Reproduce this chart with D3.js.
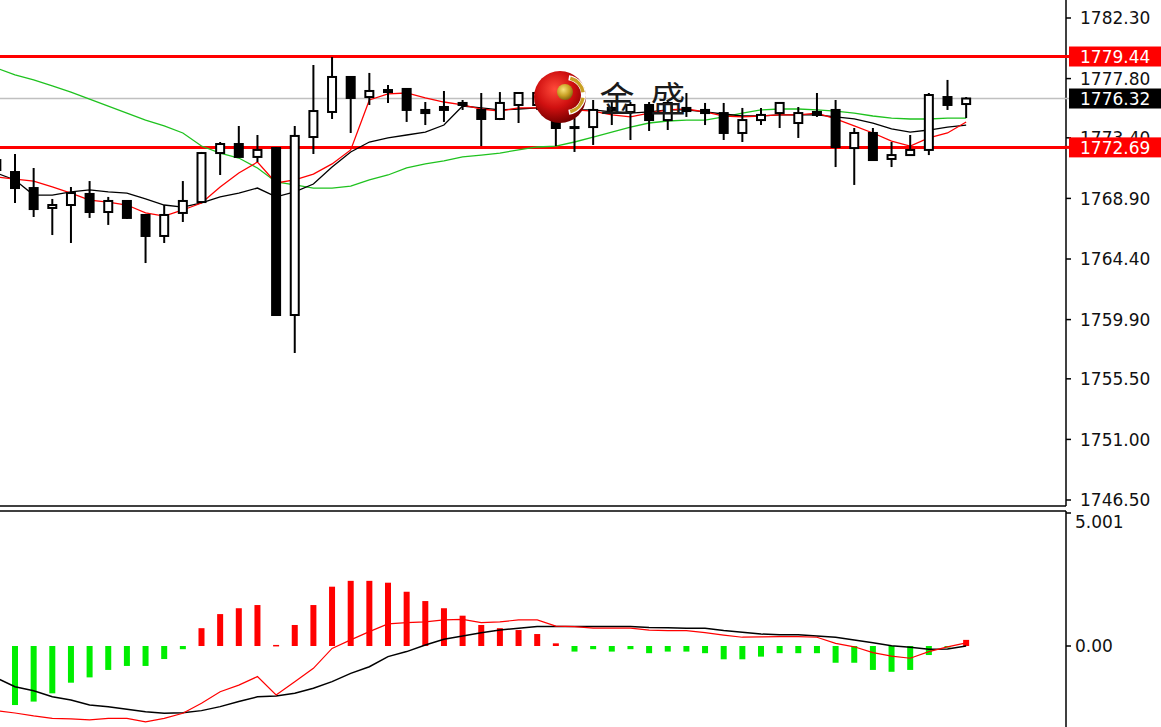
<!DOCTYPE html>
<html><head><meta charset="utf-8">
<script src="https://cdn.jsdelivr.net/npm/d3@7"></script>
<style>html,body{margin:0;padding:0;background:#fff;overflow:hidden}</style>
</head><body>
<svg id="c" width="1161" height="727"></svg>
<script>
// ---- data ----
const opens  = [1771.75,1770.86,1769.67,1768.19,1768.41,1769.23,1767.89,1768.71,1767.67,1766.11,1767.82,1768.63,1772.27,1772.94,1771.98,1772.64,1760.24,1773.46,1775.32,1777.92,1776.43,1776.95,1777.03,1775.47,1775.69,1775.84,1775.47,1774.80,1775.84,1775.84,1774.72,1774.13,1774.20,1775.47,1775.32,1775.84,1774.72,1775.62,1775.47,1775.24,1773.76,1774.72,1775.24,1774.50,1775.32,1775.47,1772.64,1773.76,1771.83,1772.12,1772.50,1776.43,1775.91];
const highs  = [1772.50,1772.20,1771.16,1768.86,1769.75,1770.19,1769.01,1768.78,1767.67,1768.41,1770.19,1772.35,1773.09,1774.28,1773.61,1772.72,1774.28,1778.81,1779.40,1777.92,1778.22,1777.32,1777.10,1776.06,1776.88,1776.21,1776.73,1776.80,1776.80,1776.80,1775.32,1774.87,1776.21,1776.21,1776.06,1776.06,1776.21,1776.73,1775.99,1775.99,1775.62,1775.62,1776.06,1775.69,1776.73,1776.21,1774.13,1774.13,1773.09,1773.61,1776.73,1777.70,1776.43];
const lows   = [1770.42,1768.56,1767.52,1766.18,1765.59,1767.45,1766.93,1767.37,1764.10,1765.59,1767.15,1768.63,1770.64,1771.98,1771.60,1760.24,1757.42,1772.20,1774.80,1773.76,1775.84,1775.99,1774.58,1774.35,1774.58,1775.47,1772.79,1774.72,1774.50,1775.47,1772.79,1772.35,1772.87,1774.35,1773.24,1773.91,1773.98,1774.95,1774.35,1773.24,1773.09,1774.35,1774.13,1773.39,1774.95,1771.23,1769.90,1771.75,1771.23,1772.12,1772.12,1775.47,1774.87];
const closes = [1771.01,1769.67,1768.11,1768.41,1769.30,1767.89,1768.71,1767.45,1766.11,1767.67,1768.71,1772.27,1772.94,1771.98,1772.50,1760.24,1773.54,1775.39,1777.92,1776.36,1776.88,1776.80,1775.47,1775.24,1775.47,1775.99,1774.80,1775.99,1776.73,1776.73,1774.13,1774.20,1775.47,1775.62,1775.84,1774.72,1775.99,1775.39,1775.24,1773.76,1774.72,1775.10,1775.99,1775.24,1775.10,1772.72,1773.76,1771.75,1772.12,1772.50,1776.58,1775.84,1776.32];

const maRed   = [1770.49,1770.34,1770.19,1769.75,1769.30,1768.78,1768.63,1768.41,1767.82,1767.59,1768.04,1768.56,1769.75,1770.79,1771.60,1770.05,1770.27,1770.71,1771.46,1772.50,1776.21,1776.66,1776.73,1776.36,1776.06,1775.84,1775.54,1775.39,1775.62,1775.62,1775.47,1775.47,1775.39,1775.10,1774.95,1775.24,1775.47,1775.54,1775.32,1775.02,1774.95,1775.02,1775.10,1775.10,1775.24,1774.80,1774.28,1773.76,1773.16,1772.79,1773.39,1773.76,1774.58];
const maBlack = [1770.79,1770.27,1769.15,1769.15,1769.38,1769.53,1769.38,1769.30,1768.86,1768.41,1768.26,1768.56,1769.01,1769.30,1769.67,1769.01,1769.38,1769.97,1771.23,1772.35,1773.09,1773.39,1773.61,1773.83,1774.35,1775.76,1775.62,1775.47,1775.54,1775.62,1775.47,1775.47,1775.47,1775.32,1775.24,1775.32,1775.47,1775.47,1775.32,1775.17,1775.02,1775.02,1775.10,1775.10,1775.10,1774.95,1774.80,1774.50,1774.06,1773.83,1773.98,1774.20,1774.35];
const maGreen = [1778.59,1778.07,1777.70,1777.25,1776.80,1776.28,1775.76,1775.24,1774.72,1774.28,1773.76,1772.79,1772.27,1771.90,1771.16,1770.12,1769.90,1769.67,1769.67,1769.82,1770.27,1770.64,1771.16,1771.46,1771.68,1771.98,1772.12,1772.27,1772.50,1772.72,1772.79,1773.09,1773.46,1773.83,1774.20,1774.50,1774.65,1774.72,1774.72,1774.95,1775.24,1775.47,1775.54,1775.54,1775.47,1775.39,1775.24,1775.02,1774.87,1774.80,1774.80,1774.87,1774.87];

const macdHist   = [-2.30,-2.22,-2.09,-1.78,-1.38,-1.18,-0.90,-0.75,-0.75,-0.49,-0.12,0.67,1.20,1.42,1.54,0.04,0.79,1.54,2.23,2.45,2.45,2.38,2.04,1.69,1.42,1.14,0.79,0.67,0.60,0.45,0.10,-0.21,-0.12,-0.21,-0.12,-0.27,-0.21,-0.21,-0.27,-0.50,-0.50,-0.40,-0.27,-0.27,-0.27,-0.63,-0.63,-0.90,-0.97,-0.90,-0.34,-0.05,0.23];
const macdRed    = [-2.43,-2.52,-2.63,-2.72,-2.74,-2.78,-2.72,-2.72,-2.85,-2.72,-2.53,-2.15,-1.72,-1.47,-1.15,-1.84,-1.34,-0.84,-0.09,0.23,0.54,0.83,0.88,0.91,0.98,1.00,0.88,0.91,0.98,0.98,0.75,0.73,0.67,0.67,0.67,0.60,0.58,0.58,0.50,0.41,0.33,0.34,0.35,0.35,0.33,0.10,-0.03,-0.25,-0.38,-0.46,-0.21,-0.03,0.12];
const macdBlack  = [-1.20,-1.53,-1.68,-1.91,-2.03,-2.22,-2.28,-2.38,-2.47,-2.53,-2.51,-2.43,-2.28,-2.09,-1.91,-1.88,-1.78,-1.59,-1.34,-1.03,-0.78,-0.40,-0.21,0.04,0.25,0.38,0.50,0.60,0.67,0.73,0.73,0.73,0.73,0.73,0.73,0.70,0.69,0.67,0.67,0.58,0.52,0.45,0.42,0.42,0.38,0.33,0.23,0.12,0.01,-0.05,-0.12,-0.11,0.00];

const priceTicks = [1782.30,1777.80,1773.40,1768.90,1764.40,1759.90,1755.50,1751.00,1746.50];
const levelLines = [1779.44,1772.69];
const lastPrice = 1776.32;
const macdTicks = [5.001,0.00];
const macdTickLabels = ["5.001","0.00"];
const brandChars = ["金","盛"];

// ---- drawing ----
const svg = d3.select("#c");
const W = 1161, H = 727;
const axisX = 1066;
const mainBottom = 506, macdTop = 511;
const N = closes.length;
const idx = d3.range(N);

const x = d3.scaleLinear().domain([0, N - 1]).range([-3.65, 966.15]);
const y = d3.scaleLinear().domain([1746.5, 1782.3]).range([500, 18]);
const ym = d3.scaleLinear().domain([0, 5.001]).range([646, 513]);
const fmt = d3.format(".2f");

const defs = svg.append("defs");
defs.append("clipPath").attr("id","clipMain").append("rect").attr("x",0).attr("y",0).attr("width",axisX).attr("height",mainBottom);
defs.append("clipPath").attr("id","clipMacd").append("rect").attr("x",0).attr("y",macdTop).attr("width",axisX).attr("height",H-macdTop);
const rg = defs.append("radialGradient").attr("id","redBall").attr("cx","40%").attr("cy","35%").attr("r","65%");
rg.append("stop").attr("offset","0%").attr("stop-color","#ff4a3a");
rg.append("stop").attr("offset","55%").attr("stop-color","#d01010");
rg.append("stop").attr("offset","100%").attr("stop-color","#7a0000");
const gg = defs.append("radialGradient").attr("id","goldBall").attr("cx","40%").attr("cy","35%").attr("r","65%");
gg.append("stop").attr("offset","0%").attr("stop-color","#f8e27a");
gg.append("stop").attr("offset","60%").attr("stop-color","#c9a024");
gg.append("stop").attr("offset","100%").attr("stop-color","#8a6a10");

svg.append("rect").attr("width",W).attr("height",H).attr("fill","#fff");

// main panel
const gMain = svg.append("g").attr("clip-path","url(#clipMain)");

// last price line
gMain.append("line").attr("x1",0).attr("x2",axisX).attr("y1",y(lastPrice)).attr("y2",y(lastPrice))
  .attr("stroke","#c0c0c0").attr("stroke-width",1.5);

// level lines
gMain.selectAll("line.lvl").data(levelLines).join("line").attr("class","lvl")
  .attr("x1",0).attr("x2",axisX).attr("y1",d=>y(d)).attr("y2",d=>y(d))
  .attr("stroke","#ff0000").attr("stroke-width",3);

// moving averages
const lineOf = arr => d3.line().x((d,i)=>x(i)).y(d=>y(d))(arr);
gMain.append("path").attr("d",lineOf(maGreen)).attr("fill","none").attr("stroke","#1fc21f").attr("stroke-width",1.3);
gMain.append("path").attr("d",lineOf(maBlack)).attr("fill","none").attr("stroke","#000").attr("stroke-width",1.3);
gMain.append("path").attr("d",lineOf(maRed)).attr("fill","none").attr("stroke","#ff0000").attr("stroke-width",1.3);

// candles
const bw = 10;
gMain.selectAll("line.wick").data(idx).join("line").attr("class","wick")
  .attr("x1",i=>x(i)).attr("x2",i=>x(i)).attr("y1",i=>y(highs[i])).attr("y2",i=>y(lows[i]))
  .attr("stroke","#000").attr("stroke-width",2);
gMain.selectAll("rect.body").data(idx).join("rect").attr("class","body")
  .attr("x",i=>x(i)-bw/2+1).attr("width",bw-2)
  .attr("y",i=>y(Math.max(opens[i],closes[i])))
  .attr("height",i=>Math.max(1,Math.abs(y(opens[i])-y(closes[i]))))
  .attr("fill",i=>closes[i]>=opens[i]?"#fff":"#000")
  .attr("stroke","#000").attr("stroke-width",2);

// logo
const logo = svg.append("g").attr("transform","translate(560,97)");
logo.append("circle").attr("r",26).attr("fill","url(#redBall)");
logo.append("path").attr("d",d3.arc().innerRadius(15).outerRadius(20).startAngle(0.05*Math.PI).endAngle(0.95*Math.PI)())
  .attr("transform","translate(6,-2)").attr("fill","#fff");
logo.append("path").attr("d",d3.arc().innerRadius(15.5).outerRadius(19).startAngle(0.08*Math.PI).endAngle(0.45*Math.PI)())
  .attr("transform","translate(6,-2)").attr("fill","#c9a024");
logo.append("path").attr("d",d3.arc().innerRadius(15.5).outerRadius(19).startAngle(0.55*Math.PI).endAngle(0.92*Math.PI)())
  .attr("transform","translate(6,-2)").attr("fill","#c9a024");
logo.append("circle").attr("cx",5).attr("cy",-5).attr("r",8).attr("fill","url(#goldBall)");

svg.selectAll("text.brand").data(brandChars).join("text").attr("class","brand")
  .attr("x",(d,i)=>617+i*51).attr("y",112).attr("text-anchor","middle")
  .attr("font-family","'Noto Sans CJK SC'").attr("font-size",35).attr("fill","#1a1a1a")
  .text(d=>d);

// main frame
svg.append("line").attr("x1",axisX).attr("x2",axisX).attr("y1",0).attr("y2",mainBottom).attr("stroke","#000").attr("stroke-width",1.5);
svg.append("line").attr("x1",0).attr("x2",axisX).attr("y1",mainBottom).attr("y2",mainBottom).attr("stroke","#000").attr("stroke-width",1.5);

// price axis
const fontAx = "'DejaVu Sans', Verdana, sans-serif";
svg.selectAll("line.ptick").data(priceTicks).join("line").attr("class","ptick")
  .attr("x1",axisX).attr("x2",axisX+5).attr("y1",d=>y(d)).attr("y2",d=>y(d)).attr("stroke","#000").attr("stroke-width",1.5);
svg.selectAll("text.ptl").data(priceTicks).join("text").attr("class","ptl")
  .attr("x",1080).attr("y",d=>y(d)).attr("dy","0.36em")
  .attr("font-family",fontAx).attr("font-size",17).attr("fill","#111").text(d=>fmt(d));

// level labels
const lab = svg.selectAll("g.lvlab").data(levelLines.map(v=>({v,bg:"#ff0000"})).concat([{v:lastPrice,bg:"#000"}])).join("g").attr("class","lvlab");
lab.append("line").attr("x1",axisX-2).attr("x2",1069).attr("y1",d=>y(d.v)).attr("y2",d=>y(d.v))
  .attr("stroke",d=>d.bg==="#000"?"#c0c0c0":"#ff0000").attr("stroke-width",d=>d.bg==="#000"?1.5:3);
lab.append("rect").attr("x",1069).attr("width",W-1069).attr("y",d=>y(d.v)-10).attr("height",20).attr("fill",d=>d.bg);
lab.append("text").attr("x",1080).attr("y",d=>y(d.v)).attr("dy","0.36em")
  .attr("font-family",fontAx).attr("font-size",17).attr("fill","#fff").text(d=>fmt(d.v));

// MACD panel
const gM = svg.append("g").attr("clip-path","url(#clipMacd)");
gM.selectAll("rect.hist").data(idx).join("rect").attr("class","hist")
  .attr("x",i=>x(i)-3).attr("width",6)
  .attr("y",i=>Math.min(ym(0),ym(macdHist[i])))
  .attr("height",i=>Math.max(1.5,Math.abs(ym(macdHist[i])-ym(0))))
  .attr("fill",i=>macdHist[i]>=0?"#ff0000":"#00ee00");
const lineM = arr => d3.line().x((d,i)=>x(i)).y(d=>ym(d))(arr);
gM.append("path").attr("d",lineM(macdBlack)).attr("fill","none").attr("stroke","#000").attr("stroke-width",1.5);
gM.append("path").attr("d",lineM(macdRed)).attr("fill","none").attr("stroke","#ff0000").attr("stroke-width",1.2);

svg.append("line").attr("x1",0).attr("x2",axisX).attr("y1",macdTop).attr("y2",macdTop).attr("stroke","#000").attr("stroke-width",1.5);
svg.append("line").attr("x1",axisX).attr("x2",axisX).attr("y1",macdTop).attr("y2",H).attr("stroke","#000").attr("stroke-width",1.5);
svg.selectAll("line.mtick").data(macdTicks).join("line").attr("class","mtick")
  .attr("x1",axisX).attr("x2",axisX+5).attr("y1",d=>ym(d)).attr("y2",d=>ym(d)).attr("stroke","#000").attr("stroke-width",1.5);
svg.selectAll("text.mtl").data(macdTicks).join("text").attr("class","mtl")
  .attr("x",1075).attr("y",(d,i)=>i===0?ym(d)+9:ym(d)).attr("dy","0.36em")
  .attr("font-family",fontAx).attr("font-size",17).attr("fill","#111").text((d,i)=>macdTickLabels[i]);
</script>
</body></html>
